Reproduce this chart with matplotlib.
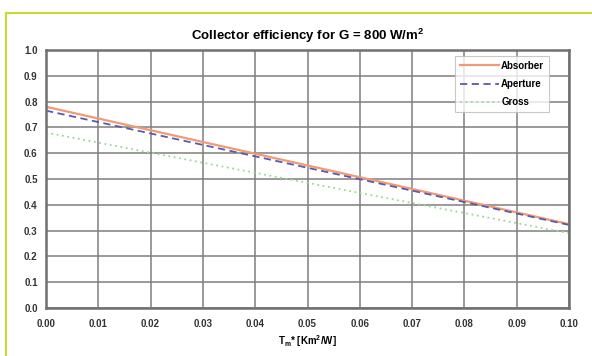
import matplotlib
matplotlib.use("Agg")
import matplotlib.pyplot as plt
from matplotlib.lines import Line2D

plt.rcParams['font.family'] = ['Liberation Sans', 'DejaVu Sans']
plt.rcParams['mathtext.default'] = 'regular'

x = [0.0, 0.10]
absorber = [0.78, 0.325]
aperture = [0.765, 0.322]
gross = [0.68, 0.29]
xticks = [0.00, 0.01, 0.02, 0.03, 0.04, 0.05, 0.06, 0.07, 0.08, 0.09, 0.10]
yticks = [0.0, 0.1, 0.2, 0.3, 0.4, 0.5, 0.6, 0.7, 0.8, 0.9, 1.0]

W, H = 592, 356
fig = plt.figure(figsize=(W / 100, H / 100), dpi=100)
fig.patch.set_facecolor('white')
ax = fig.add_axes([46 / W, 1 - 308 / H, (569 - 46) / W, (308 - 50) / H])

ax.plot(x, absorber, color='#f09a78', lw=1.6, label='Absorber')
ax.plot(x, aperture, color='#5a5aa8', lw=1.3, ls=(0, (4, 2.5)), label='Aperture')
ax.plot(x, gross, color='#9ed69a', lw=1.3, ls=(0, (1, 2)), label='Gross')

ax.set_xlim(0, 0.10)
ax.set_ylim(0, 1.0)
ax.set_xticks(xticks)
ax.set_yticks(yticks)
ax.set_xticklabels([f"{v:.2f}" for v in xticks])
ax.set_yticklabels([f"{v:.1f}" for v in yticks])
ax.grid(True, color='#7e7e7e', lw=1.1)
ax.set_axisbelow(True)
for s in ax.spines.values():
    s.set_color('#707070')
    s.set_linewidth(1.8)
ax.tick_params(axis='both', length=0, labelsize=7, colors='#333333')
ax.tick_params(axis='x', pad=8)
ax.tick_params(axis='y', pad=6)
for lbl in ax.get_xticklabels() + ax.get_yticklabels():
    lbl.set_fontweight('bold')

ax.set_title('Collector efficiency for G = 800 W/m$^2$', fontsize=9.5,
             fontweight='bold', pad=7)
ax.set_xlabel(r'T$_m$* [Km$^2$/W]', fontsize=7, fontweight='bold', labelpad=3)

leg = ax.legend(loc='upper right', bbox_to_anchor=(549 / W, 1 - 56 / H),
                bbox_transform=fig.transFigure, fontsize=7, frameon=True,
                fancybox=False, handlelength=4, handletextpad=0.2,
                borderpad=0.5, labelspacing=0.85, borderaxespad=0)
leg.get_frame().set_edgecolor('#bbbbbb')
leg.get_frame().set_linewidth(0.8)
for t in leg.get_texts():
    t.set_fontweight('bold')

# decorative border (top and left)
fig.add_artist(Line2D([6 / W, 1.0], [1 - 13 / H, 1 - 13 / H],
                      transform=fig.transFigure, color='#c8dc30', lw=1.5))
fig.add_artist(Line2D([6 / W, 6 / W], [0.0, 1 - 13 / H],
                      transform=fig.transFigure, color='#c8dc30', lw=1.5))

fig.savefig('out.png', dpi=100)
